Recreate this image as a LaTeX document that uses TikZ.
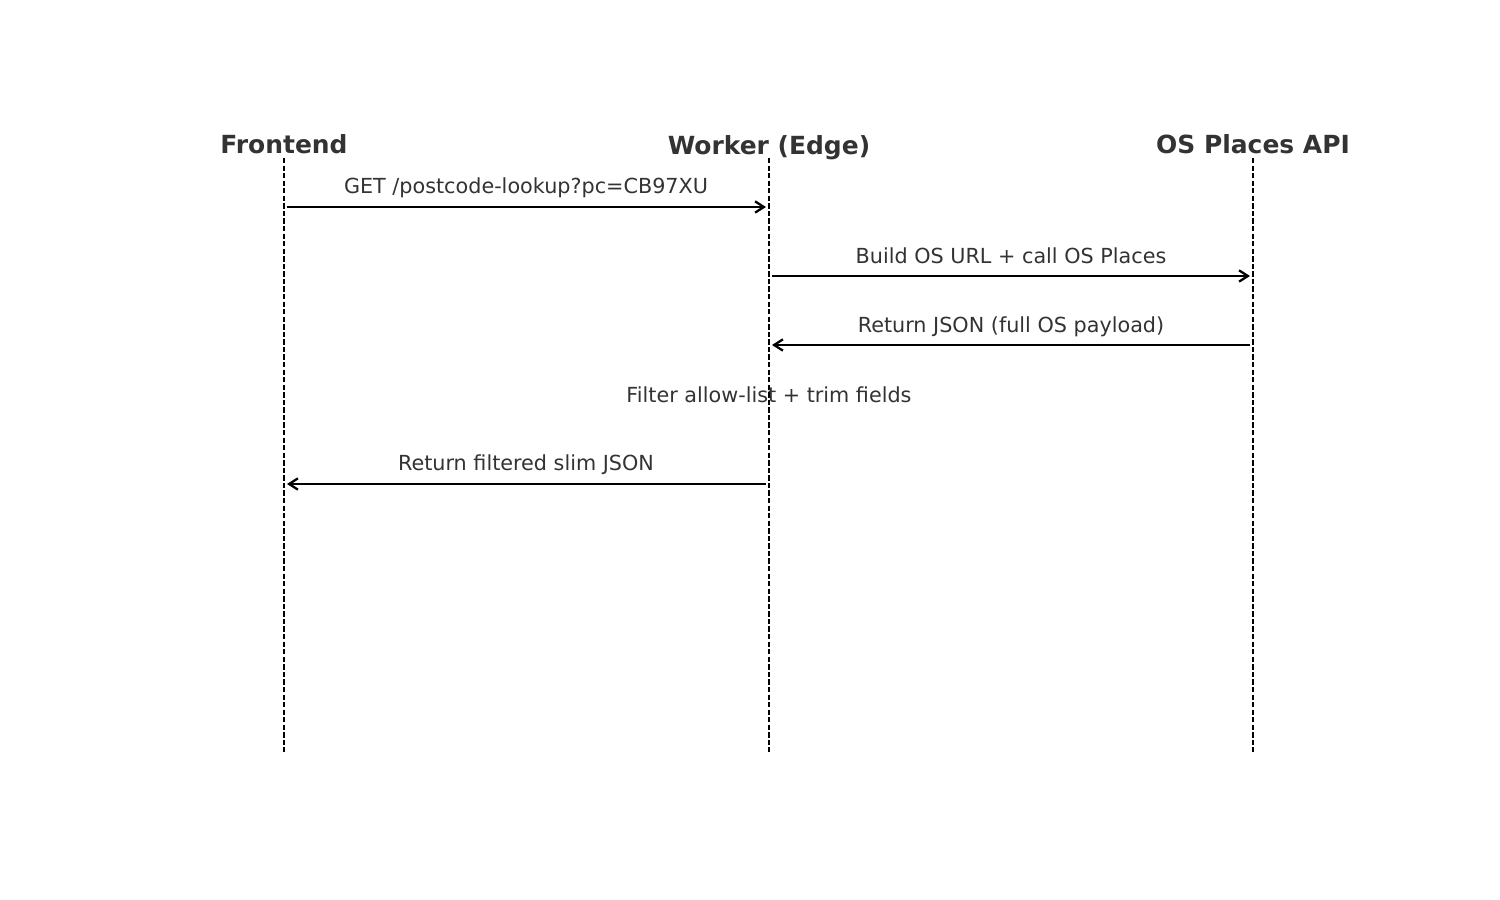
\documentclass[tikz,border=0pt]{standalone}
\usepackage{fontspec}
\usepackage{xcolor}
\usetikzlibrary{arrows.meta}
\setmainfont{DejaVu Sans}
\definecolor{textgray}{RGB}{51,51,51}

\begin{document}
\begin{tikzpicture}[
    actor/.style={font=\fontsize{7.1}{8}\selectfont\bfseries, text=textgray, inner sep=0pt},
    msglabel/.style={font=\fontsize{5.9}{7}\selectfont, text=textgray, inner sep=0pt},
    lifeline/.style={line width=0.75pt, dash pattern=on 1.5pt off 0.65pt},
    msg/.style={line width=0.65pt, -{Straight Barb[length=2.5pt,width=3.2pt]}}
  ]
                % Canvas
                \useasboundingbox (0,0) rectangle (15,9);

                % Actors
                \node[actor] (front) at (2.84,7.56) {Frontend};
                \node[actor] (worker) at (7.69,7.52) {Worker (Edge)};
                \node[actor] (osapi) at (12.53,7.56) {OS Places API};

                % Lifelines
                \coordinate (fronttop) at (2.84,7.42);
                \coordinate (frontbot) at (2.84,1.48);
                \coordinate (workertop) at (7.69,7.42);
                \coordinate (workerbot) at (7.69,1.48);
                \coordinate (osapitop) at (12.53,7.42);
                \coordinate (osapibot) at (12.53,1.48);
                \draw[lifeline] (fronttop) -- (frontbot);
                \draw[lifeline] (workertop) -- (workerbot);
                \draw[lifeline] (osapitop) -- (osapibot);

                % Message points
                \coordinate (f1) at (2.87,6.93);
                \coordinate (w1) at (7.66,6.93);
                \coordinate (w2) at (7.72,6.24);
                \coordinate (o2) at (12.50,6.24);
                \coordinate (o3) at (12.50,5.55);
                \coordinate (w3) at (7.72,5.55);
                \coordinate (w5) at (7.66,4.16);
                \coordinate (f5) at (2.87,4.16);

                % Messages
                \draw[msg] (f1) -- (w1);
                \node[msglabel] (lblget) at (5.26,7.12) {GET /postcode-lookup?pc=CB97XU};
                \draw[msg] (w2) -- (o2);
                \node[msglabel] (lblbuild) at (10.11,6.44) {Build OS URL + call OS Places};
                \draw[msg] (o3) -- (w3);
                \node[msglabel] (lblret) at (10.11,5.73) {Return JSON (full OS payload)};
                \node[msglabel] (lblfilter) at (7.69,5.05) {Filter allow-list + trim fields};
                \draw[msg] (w5) -- (f5);
                \node[msglabel] (lblslim) at (5.26,4.35) {Return filtered slim JSON};
\end{tikzpicture}
\end{document}
